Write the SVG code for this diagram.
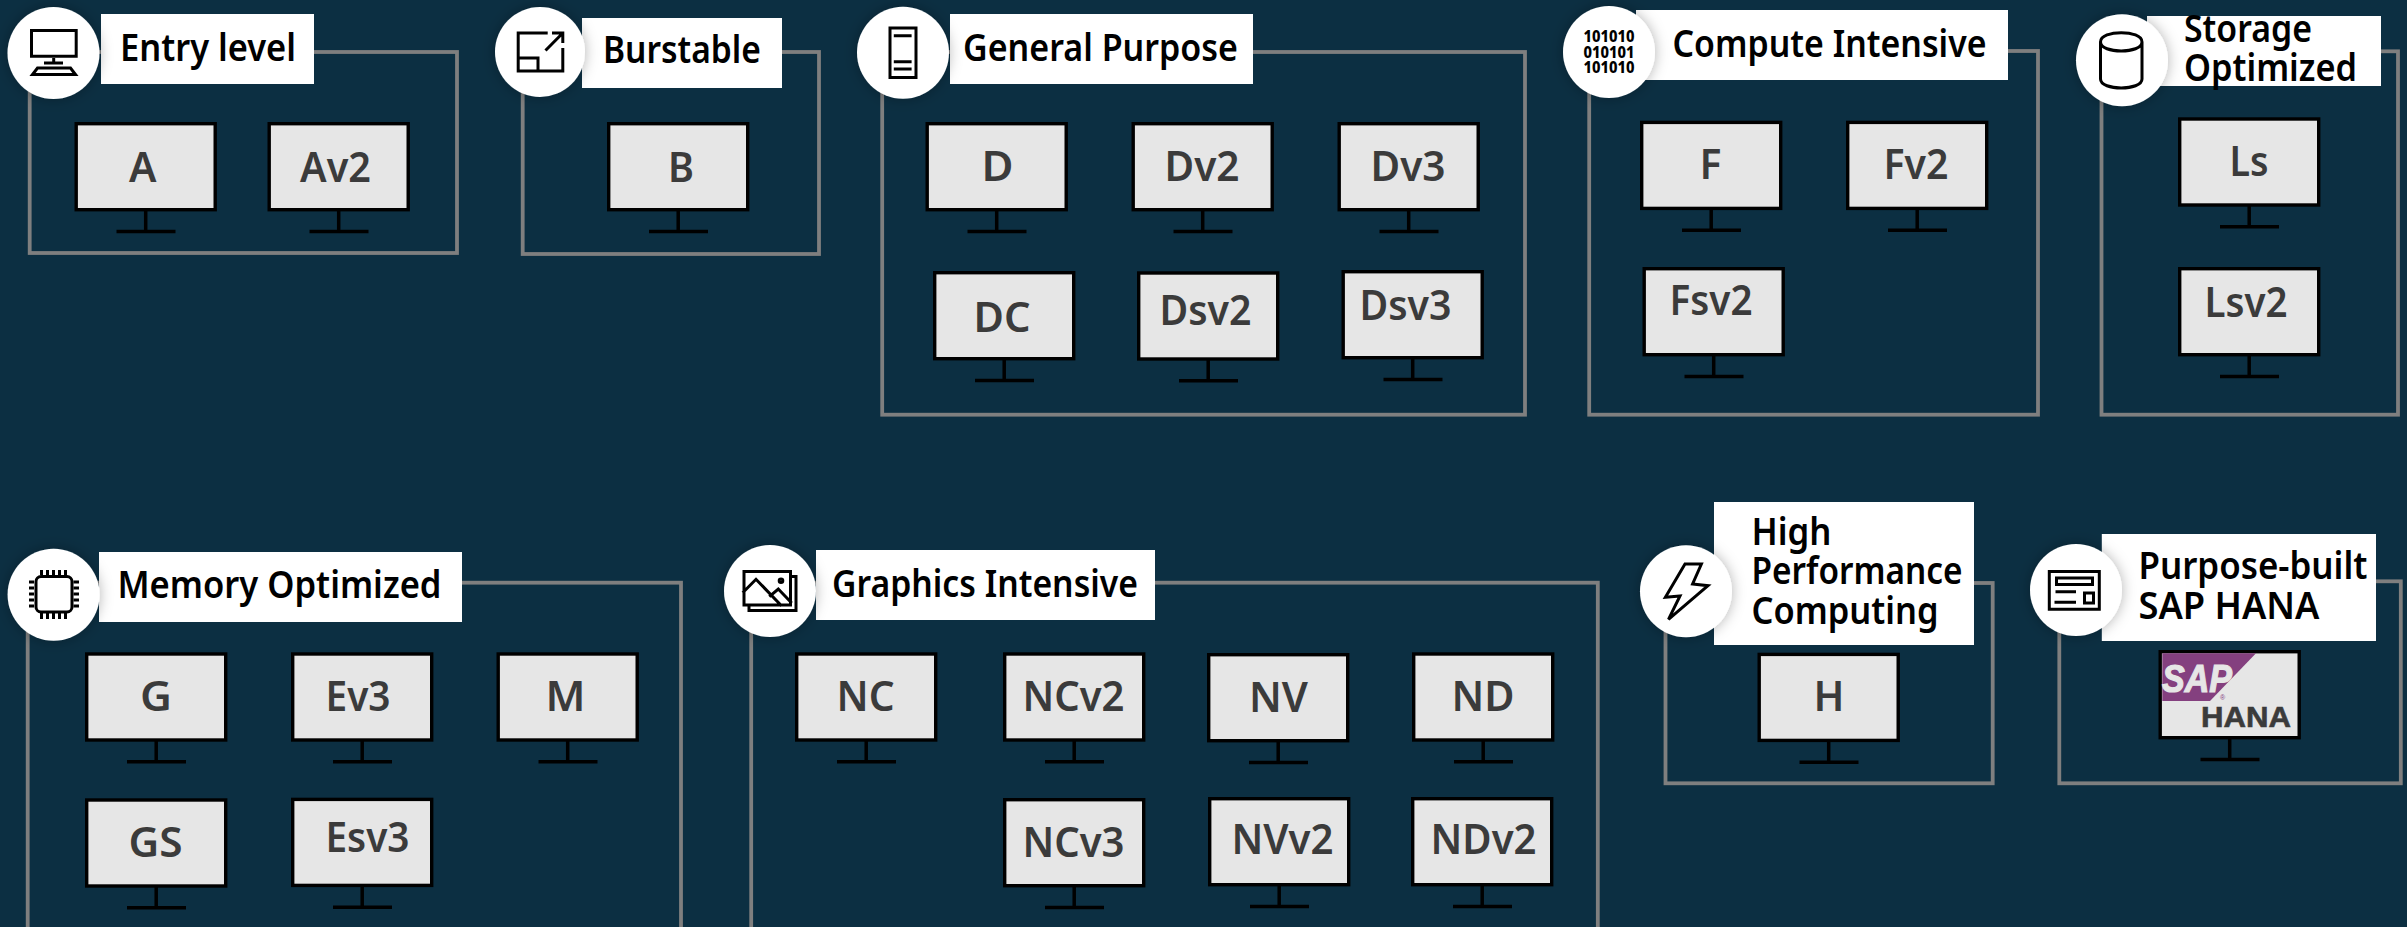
<svg xmlns="http://www.w3.org/2000/svg" width="2407" height="927" viewBox="0 0 2407 927">
<style>
.frame{fill:none;stroke:#7f7f7f;stroke-width:3.8}
.label{fill:#fff}
.badge{fill:#fff;filter:url(#soft)}
.lt{font-family:"Noto Sans","Liberation Sans",sans-serif;font-weight:600;font-size:37px;fill:#000}
.mt{font-family:"Noto Sans","Liberation Sans",sans-serif;font-weight:600;font-size:42px;fill:#3b3b3b}
.ic{fill:none;stroke:#000;stroke-width:3}
.ict{font-family:"Noto Sans","Liberation Sans",sans-serif;font-weight:800;font-size:16px;fill:#000}
</style>
<defs>
<filter id="soft" x="-40%" y="-40%" width="180%" height="180%"><feDropShadow dx="0" dy="0" stdDeviation="7" flood-color="#000" flood-opacity="0.3"/></filter>
<g id="mon"><path d="M71.2 88V110M42 109.500H101" fill="none" stroke="#000" stroke-width="3.500"/><rect x="1.700" y="1.700" width="139" height="86" fill="#e6e6e6" stroke="#000" stroke-width="3.400"/></g>
</defs>
<rect width="2407" height="927" fill="#0c2f42"/>

<g id="entry-level">
<rect class="frame" x="29.700" y="52" width="427.300" height="201"/><rect class="label" x="101" y="14" width="213" height="70"/><circle class="badge" cx="53.500" cy="53" r="46"/>
<path class="ic" d="M31.500 30.500H76.200V56.200H31.500ZM53.700 58V62M44 63H63M37.500 68H70.500L75.500 74.500H32.500Z"/>
<text class="lt" x="120" y="60.700" textLength="176" lengthAdjust="spacingAndGlyphs">Entry level</text>
<g id="A"><use href="#mon" x="74.500" y="122"/><text class="mt" x="129" y="181.700" textLength="27.500" lengthAdjust="spacingAndGlyphs">A</text></g>
<g id="Av2"><use href="#mon" x="267.500" y="122"/><text class="mt" x="300" y="181.700" textLength="71" lengthAdjust="spacingAndGlyphs">Av2</text></g>
</g>

<g id="burstable">
<rect class="frame" x="522.700" y="52" width="296.300" height="202"/><rect class="label" x="582" y="18" width="200" height="70"/><circle class="badge" cx="540" cy="52" r="45"/>
<path class="ic" d="M547.700 33H518.200V71H562.800V48M518.200 58H538V71M545.500 50.500L562.800 33M552 33H562.800V43"/>
<text class="lt" x="603" y="63.300" textLength="158" lengthAdjust="spacingAndGlyphs">Burstable</text>
<g id="B"><use href="#mon" x="607" y="122"/><text class="mt" x="668" y="181.700" textLength="26" lengthAdjust="spacingAndGlyphs">B</text></g>
</g>

<g id="general-purpose">
<rect class="frame" x="882.200" y="52" width="642.800" height="362.700"/><rect class="label" x="950" y="14" width="303" height="70"/><circle class="badge" cx="903" cy="52.700" r="46"/>
<path class="ic" d="M890 28H916V77.500H890ZM893.800 35.700H911.600M893.800 61.700H911.600M893.800 69H911.600"/>
<text class="lt" x="963" y="60.700" textLength="275" lengthAdjust="spacingAndGlyphs">General Purpose</text>
<g id="D"><use href="#mon" x="925.500" y="122"/><text class="mt" x="981.500" y="181" textLength="32" lengthAdjust="spacingAndGlyphs">D</text></g>
<g id="Dv2"><use href="#mon" x="1131.500" y="122"/><text class="mt" x="1164.500" y="181" textLength="75" lengthAdjust="spacingAndGlyphs">Dv2</text></g>
<g id="Dv3"><use href="#mon" x="1337.500" y="122"/><text class="mt" x="1370.500" y="181" textLength="75" lengthAdjust="spacingAndGlyphs">Dv3</text></g>
<g id="DC"><use href="#mon" x="933" y="271"/><text class="mt" x="973.500" y="331.700" textLength="57" lengthAdjust="spacingAndGlyphs">DC</text></g>
<g id="Dsv2"><use href="#mon" x="1137" y="271.300"/><text class="mt" x="1159.500" y="325" textLength="92" lengthAdjust="spacingAndGlyphs">Dsv2</text></g>
<g id="Dsv3"><use href="#mon" x="1341.500" y="270"/><text class="mt" x="1359.500" y="320" textLength="92" lengthAdjust="spacingAndGlyphs">Dsv3</text></g>
</g>

<g id="compute-intensive">
<rect class="frame" x="1589.200" y="51" width="448.800" height="363.700"/><rect class="label" x="1636" y="10" width="372" height="70"/><circle class="badge" cx="1609" cy="52" r="46"/>
<text class="ict"><tspan x="1583.500" y="41.700" textLength="51" lengthAdjust="spacingAndGlyphs">101010</tspan><tspan x="1583.500" y="57.700" textLength="51" lengthAdjust="spacingAndGlyphs">010101</tspan><tspan x="1583.500" y="73.300" textLength="51" lengthAdjust="spacingAndGlyphs">101010</tspan></text>
<text class="lt" x="1672.500" y="56.700" textLength="314" lengthAdjust="spacingAndGlyphs">Compute Intensive</text>
<g id="F"><use href="#mon" x="1640" y="120.700"/><text class="mt" x="1699.500" y="179.300" textLength="22" lengthAdjust="spacingAndGlyphs">F</text></g>
<g id="Fv2"><use href="#mon" x="1846" y="120.700"/><text class="mt" x="1883.500" y="179.300" textLength="65" lengthAdjust="spacingAndGlyphs">Fv2</text></g>
<g id="Fsv2"><use href="#mon" x="1642.500" y="267"/><text class="mt" x="1669.500" y="315" textLength="83" lengthAdjust="spacingAndGlyphs">Fsv2</text></g>
</g>

<g id="storage-optimized">
<rect class="frame" x="2101.500" y="51.300" width="296.500" height="363.400"/><rect class="label" x="2147" y="16" width="234" height="70"/><circle class="badge" cx="2122" cy="60.300" r="46"/>
<path class="ic" d="M2100.500 42C2100.500 29.500 2142 29.500 2142 42V79C2142 91 2100.500 91 2100.500 79ZM2100.500 42C2100.500 54 2142 54 2142 42"/>
<text class="lt"><tspan x="2184" y="41.700" textLength="128" lengthAdjust="spacingAndGlyphs">Storage</tspan><tspan x="2184" y="81" textLength="173" lengthAdjust="spacingAndGlyphs">Optimized</tspan></text>
<g id="Ls"><use href="#mon" x="2178" y="117.300"/><text class="mt" x="2229.500" y="176" textLength="39" lengthAdjust="spacingAndGlyphs">Ls</text></g>
<g id="Lsv2"><use href="#mon" x="2178" y="267"/><text class="mt" x="2204.500" y="316.700" textLength="83" lengthAdjust="spacingAndGlyphs">Lsv2</text></g>
</g>

<g id="memory-optimized">
<rect class="frame" x="27.700" y="582.700" width="653.300" height="360"/><rect class="label" x="99" y="552" width="363" height="70"/><circle class="badge" cx="53.600" cy="594.700" r="46"/>
<rect class="ic" x="36" y="576.500" width="36" height="35.500" rx="5" stroke-width="3.500"/>
<path class="ic" stroke-width="2" d="M41.500 570V575M47.500 570V575M53.500 570V575M59.500 570V575M65.500 570V575M41.500 613V619M47.500 613V619M53.500 613V619M59.500 613V619M65.500 613V619M29 582H34M29 588H34M29 594H34M29 600H34M29 606H34M73.500 582H79M73.500 588H79M73.500 594H79M73.500 600H79M73.500 606H79"/>
<text class="lt" x="117.500" y="598.300" textLength="324" lengthAdjust="spacingAndGlyphs">Memory Optimized</text>
<g id="G"><use href="#mon" x="85" y="652.300"/><text class="mt" x="140" y="711" textLength="32" lengthAdjust="spacingAndGlyphs">G</text></g>
<g id="Ev3"><use href="#mon" x="291" y="652.300"/><text class="mt" x="325.500" y="711" textLength="65" lengthAdjust="spacingAndGlyphs">Ev3</text></g>
<g id="M"><use href="#mon" x="496.500" y="652.300"/><text class="mt" x="545.500" y="711" textLength="40" lengthAdjust="spacingAndGlyphs">M</text></g>
<g id="GS"><use href="#mon" x="85" y="798.300"/><text class="mt" x="128.500" y="856.700" textLength="54" lengthAdjust="spacingAndGlyphs">GS</text></g>
<g id="Esv3"><use href="#mon" x="291" y="797.700"/><text class="mt" x="325.500" y="852.300" textLength="84" lengthAdjust="spacingAndGlyphs">Esv3</text></g>
</g>

<g id="graphics-intensive">
<rect class="frame" x="751.200" y="582.700" width="846.600" height="360"/><rect class="label" x="816" y="550" width="339" height="70"/><circle class="badge" cx="770" cy="591" r="46"/>
<path class="ic" d="M744 571.500H790.500V605H744ZM790.500 576.500H796V610.500H749V605M742.700 592.700L756 579.300L781.700 606M769.300 596.700L778.300 589L791.700 603"/><circle class="ic" cx="781" cy="580.700" r="1.800" stroke-width="1.300"/>
<text class="lt" x="832" y="596.700" textLength="306" lengthAdjust="spacingAndGlyphs">Graphics Intensive</text>
<g id="NC"><use href="#mon" x="795" y="652.300"/><text class="mt" x="836.500" y="711" textLength="58" lengthAdjust="spacingAndGlyphs">NC</text></g>
<g id="NCv2"><use href="#mon" x="1003" y="652.300"/><text class="mt" x="1022.500" y="711" textLength="102" lengthAdjust="spacingAndGlyphs">NCv2</text></g>
<g id="NV"><use href="#mon" x="1207" y="653"/><text class="mt" x="1249" y="712" textLength="59" lengthAdjust="spacingAndGlyphs">NV</text></g>
<g id="ND"><use href="#mon" x="1412" y="652.300"/><text class="mt" x="1451.500" y="711" textLength="63" lengthAdjust="spacingAndGlyphs">ND</text></g>
<g id="NCv3"><use href="#mon" x="1003" y="798"/><text class="mt" x="1022.500" y="856.700" textLength="102" lengthAdjust="spacingAndGlyphs">NCv3</text></g>
<g id="NVv2"><use href="#mon" x="1208" y="797"/><text class="mt" x="1231.500" y="854" textLength="102" lengthAdjust="spacingAndGlyphs">NVv2</text></g>
<g id="NDv2"><use href="#mon" x="1411" y="797"/><text class="mt" x="1430.500" y="854" textLength="106" lengthAdjust="spacingAndGlyphs">NDv2</text></g>
</g>

<g id="high-performance-computing">
<rect class="frame" x="1665.500" y="583" width="327.200" height="200.300"/><rect class="label" x="1714" y="502" width="260" height="143"/><circle class="badge" cx="1686" cy="591.300" r="46"/>
<path class="ic" stroke-width="2.800" d="M1685 564H1701.400L1692.600 584L1708 585.700L1668.500 619.300L1680 596L1665.400 597.300Z"/>
<text class="lt"><tspan x="1751.500" y="545" textLength="80" lengthAdjust="spacingAndGlyphs">High</tspan><tspan x="1751.500" y="584.300" textLength="211" lengthAdjust="spacingAndGlyphs">Performance</tspan><tspan x="1751.500" y="624" textLength="187" lengthAdjust="spacingAndGlyphs">Computing</tspan></text>
<g id="H"><use href="#mon" x="1757.500" y="652.700"/><text class="mt" x="1813.500" y="711.300" textLength="31" lengthAdjust="spacingAndGlyphs">H</text></g>
</g>

<g id="purpose-built-sap-hana">
<rect class="frame" x="2059.300" y="581.300" width="341.500" height="202"/><rect class="label" x="2101.800" y="534" width="274.200" height="107"/><circle class="badge" cx="2076" cy="590" r="46"/>
<path class="ic" d="M2049.300 571.500H2099.300V609.200H2049.300ZM2056.500 578H2092.500V584.500H2056.500ZM2055.500 591.700H2076M2054.500 602.300H2076M2084.500 593H2093.500V603H2084.500Z"/>
<text class="lt"><tspan x="2138.500" y="579.300" textLength="229" lengthAdjust="spacingAndGlyphs">Purpose-built</tspan><tspan x="2138.500" y="618.700" textLength="181" lengthAdjust="spacingAndGlyphs">SAP HANA</tspan></text>
<g id="SAP-HANA"><use href="#mon" x="2158.500" y="650"/>
<path d="M2162.300 653.300H2256L2210 701H2162.300Z" fill="#84407f"/>
<text font-family="Liberation Sans, sans-serif" font-weight="700"><tspan x="2162" y="691.700" textLength="70" lengthAdjust="spacingAndGlyphs" font-style="italic" font-size="39" fill="#e6e6e6" stroke="#e6e6e6" stroke-width="1.200">SAP</tspan><tspan x="2220" y="700" font-weight="400" font-size="7" fill="#84407f">®</tspan><tspan x="2201" y="726.700" textLength="90" lengthAdjust="spacingAndGlyphs" font-size="29" fill="#3b3b3b" stroke="#3b3b3b" stroke-width="0.600">HANA</tspan></text></g>
</g>
</svg>
